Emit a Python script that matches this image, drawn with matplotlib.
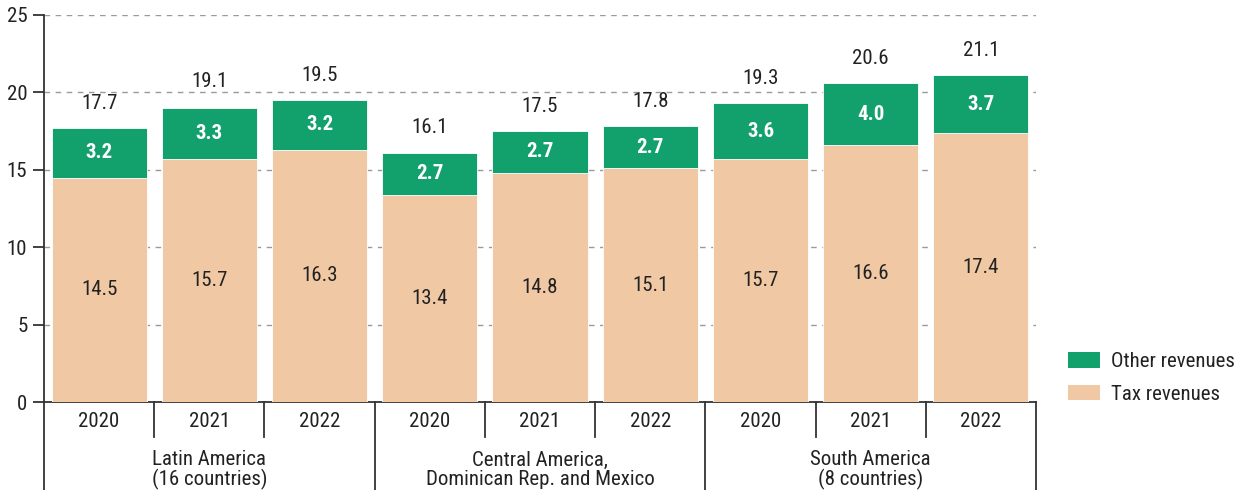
import matplotlib
matplotlib.use("Agg")
import matplotlib.pyplot as plt
import matplotlib.transforms as mtransforms
from matplotlib.patches import Patch

plt.rcParams['font.family'] = ['Roboto Condensed', 'Liberation Sans Narrow', 'Roboto', 'DejaVu Sans']

# ---- data ----
groups = ["Latin America\n(16 countries)",
          "Central America,\nDominican Rep. and Mexico",
          "South America\n(8 countries)"]
years = ["2020", "2021", "2022"]
tax_revenues = [14.5, 15.7, 16.3, 13.4, 14.8, 15.1, 15.7, 16.6, 17.4]
other_revenues = [3.2, 3.3, 3.2, 2.7, 2.7, 2.7, 3.6, 4.0, 3.7]
totals = [17.7, 19.1, 19.5, 16.1, 17.5, 17.8, 19.3, 20.6, 21.1]
y_ticks = [0, 5, 10, 15, 20, 25]

# ---- style ----
GREEN = "#12A06C"
PEACH = "#F0C8A4"
TEXT = "#222222"
AXC = "#333333"
FS = 15

fig = plt.figure(figsize=(12.41, 4.90), dpi=100)
ax = fig.add_axes([44 / 1241, 1 - 402 / 490, (1036 - 44) / 1241, (402 - 15) / 490])

n = len(tax_revenues)
x = list(range(n))
bw = 0.862
ax.bar(x, tax_revenues, width=bw, color=PEACH, edgecolor="white", linewidth=0.6, zorder=3)
ax.bar(x, other_revenues, bottom=tax_revenues, width=bw, color=GREEN,
       edgecolor="white", linewidth=0.6, zorder=3)

for i in range(n):
    ax.text(x[i], tax_revenues[i] / 2, f"{tax_revenues[i]:.1f}", ha="center", va="center",
            fontsize=FS, color=TEXT, zorder=4)
    ax.text(x[i], tax_revenues[i] + other_revenues[i] / 2, f"{other_revenues[i]:.1f}",
            ha="center", va="center", fontsize=FS, color="white", fontweight="bold", zorder=4)
    ax.text(x[i], totals[i] + 1.0, f"{totals[i]:.1f}", ha="center", va="bottom",
            fontsize=FS, color=TEXT, zorder=4)

ax.set_xlim(-0.5, n - 0.5)
ax.set_ylim(0, 25)
ax.set_yticks(y_ticks)
ax.set_yticklabels([str(t) for t in y_ticks], fontsize=FS, color=TEXT)
ax.tick_params(axis="y", direction="out", length=8, width=1.3, color=AXC, pad=4)
ax.set_xticks(x)
ax.set_xticklabels(years * len(groups), fontsize=FS, color=TEXT)
ax.tick_params(axis="x", length=0, pad=7)

for s in ["top", "right"]:
    ax.spines[s].set_visible(False)
ax.spines["left"].set_color(AXC)
ax.spines["left"].set_linewidth(1.3)
ax.spines["bottom"].set_color(AXC)
ax.spines["bottom"].set_linewidth(1.3)

for t in y_ticks[1:]:
    ax.axhline(t, color="#9a9a9a", linestyle=(0, (4, 4)), linewidth=1.0, zorder=1)

trans = mtransforms.blended_transform_factory(ax.transData, ax.transAxes)
year_sep_bottom = -35 / 387
group_sep_bottom = -90 / 387
for i in range(n + 1):
    xs = i - 0.5
    if i % 3 == 0:
        ax.plot([xs, xs], [0, group_sep_bottom], transform=trans, color=AXC,
                linewidth=1.3, clip_on=False)
    else:
        ax.plot([xs, xs], [0, year_sep_bottom], transform=trans, color=AXC,
                linewidth=1.3, clip_on=False)

for g, name in enumerate(groups):
    ax.text(3 * g + 1, -68 / 387, name, transform=trans, ha="center", va="center",
            fontsize=FS, color=TEXT, linespacing=1.05)

handles = [Patch(facecolor=GREEN, edgecolor="none", label="Other revenues"),
           Patch(facecolor=PEACH, edgecolor="none", label="Tax revenues")]
leg = fig.legend(handles=handles, loc="center left", bbox_to_anchor=(1068 / 1241, 1 - 378 / 490),
                 frameon=False, fontsize=FS, handlelength=1.55, handleheight=0.75,
                 handletextpad=0.5, labelspacing=0.65, borderaxespad=0, borderpad=0)
for t in leg.get_texts():
    t.set_color(TEXT)

fig.savefig("out.png", dpi=100)
